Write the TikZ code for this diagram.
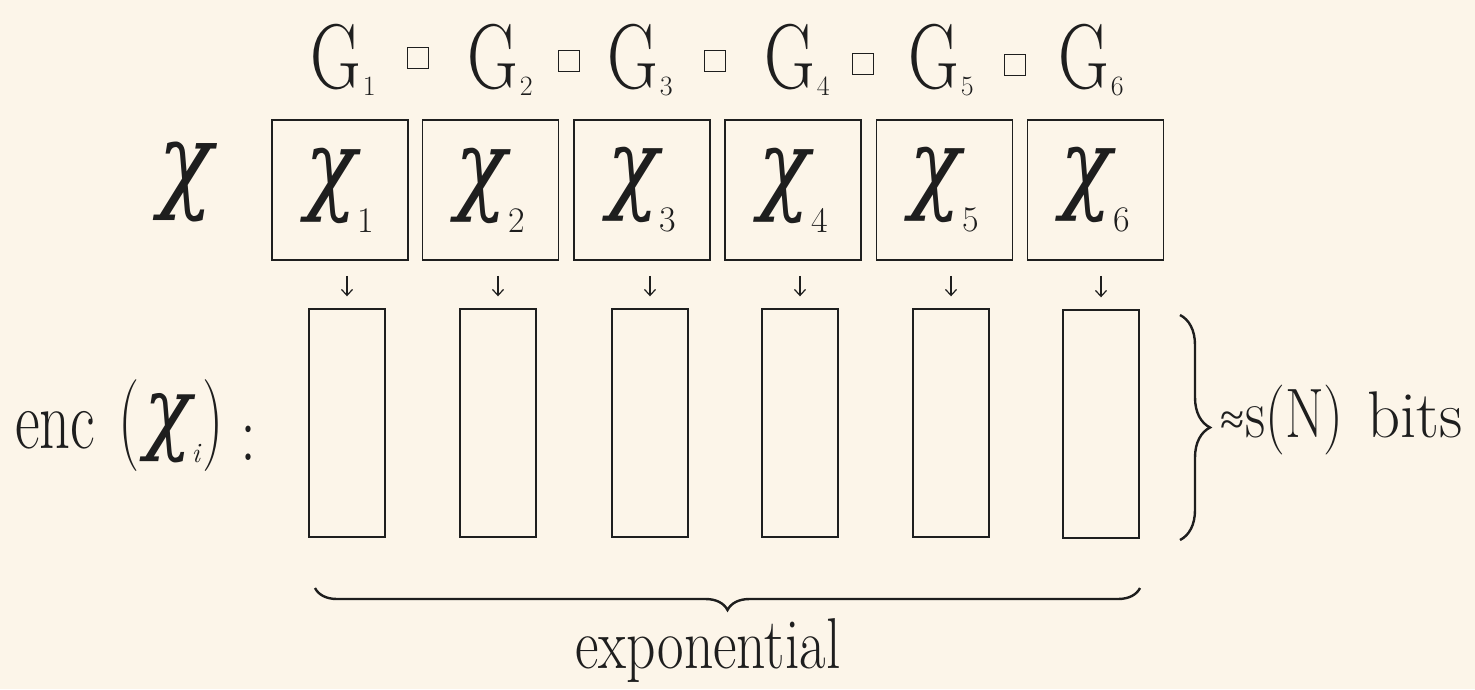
\documentclass[tikz,border=0pt]{standalone}
\usepackage{fontspec}
\usepackage{graphicx}
\newfontfamily\grk{Liberation Serif}
\newfontfamily\chifont{DejaVu Serif}
\usetikzlibrary{arrows.meta,decorations.pathreplacing,calc}
\definecolor{paper}{HTML}{FCF5E9}
\definecolor{ink}{HTML}{1E1E1E}
% size, horizontal scale, text
\newcommand{\hsz}[3]{\scalebox{#2}[1]{\fontsize{#1}{#1}\selectfont #3}}
% size, raise, text
\newcommand{\lowdigit}[3]{\raisebox{#2}{\fontsize{#1}{#1}\selectfont #3}}
\newcommand{\gsym}[1]{\hsz{92}{0.76}{G}\kern2pt\lowdigit{28}{-7pt}{#1}}
\newcommand{\chisym}[1]{\hsz{100}{0.85}{\chifont\itshape χ}\kern1pt\lowdigit{36}{-31pt}{#1}}
\begin{document}
\begin{tikzpicture}[x=1pt,y=-1pt,
  every node/.style={text=ink},
  txt/.style={inner sep=0pt,outer sep=0pt},
  xbox/.style={draw=ink,line width=1.6pt,minimum width=136pt,minimum height=140pt,inner sep=0pt},
  ebox/.style={draw=ink,line width=1.4pt,minimum width=76pt,minimum height=228pt,inner sep=0pt},
  sq/.style={draw=ink,line width=1.3pt,minimum size=21pt,inner sep=0pt},
  arr/.style={draw=ink,line width=1.2pt,-{Straight Barb[length=6pt,width=11pt]}},
  brc/.style={draw=ink,line width=2.4pt,decorate}]
\useasboundingbox (0,0) rectangle (1475,689);
\fill[paper] (0,0) rectangle (1475,689);

% top row G_i and box products
\node[txt,anchor=base west] (g1) at (310,88) {\gsym{1}};
\node[txt,anchor=base west] (g2) at (467,88) {\gsym{2}};
\node[txt,anchor=base west] (g3) at (607,88) {\gsym{3}};
\node[txt,anchor=base west] (g4) at (764,88) {\gsym{4}};
\node[txt,anchor=base west] (g5) at (908,88) {\gsym{5}};
\node[txt,anchor=base west] (g6) at (1058,88) {\gsym{6}};
\node[sq] (s1) at (418,58) {};
\node[sq] (s2) at (569,61) {};
\node[sq] (s3) at (715,61) {};
\node[sq] (s4) at (863,64) {};
\node[sq] (s5) at (1015,65) {};

% chi row
\node[txt,anchor=base west] (bigx) at (158,198) {\hsz{106}{0.85}{\chifont\itshape χ}};
\node[xbox] (x1) at (340,190) {\chisym{1}};
\node[xbox] (x2) at (490.5,190) {\chisym{2}};
\node[xbox] (x3) at (642,190) {\chisym{3}};
\node[xbox] (x4) at (793,190) {\chisym{4}};
\node[xbox] (x5) at (944.5,190) {\chisym{5}};
\node[xbox] (x6) at (1095.5,190) {\chisym{6}};

% encodings
\node[ebox] (e1) at (347,423) {};
\node[ebox] (e2) at (498,423) {};
\node[ebox] (e3) at (650,423) {};
\node[ebox] (e4) at (800,423) {};
\node[ebox] (e5) at (951,423) {};
\node[ebox] (e6) at (1101,424) {};

\foreach \i in {1,...,6}{
  \draw[arr] ($(e\i.north |- x\i.south)+(0,15)$) -- ($(e\i.north)+(0,-12)$);
}

\node[txt,anchor=base west] (enc) at (15,448) {\hsz{84}{0.72}{enc}\kern23pt\hsz{92}{0.65}{(}\kern5pt\raisebox{6pt}{\hsz{92}{0.85}{\chifont\itshape χ}}\kern0pt\lowdigit{28}{-14pt}{\itshape i}\kern3pt\hsz{92}{0.65}{)}\kern16pt\raisebox{-12pt}{\hsz{80}{0.8}{:}}};

% right brace
\coordinate (rbt) at (1180,315);
\coordinate (rbb) at (1180,540);
\draw[brc,decoration={brace,amplitude=30pt}] (rbt) -- (rbb);
\node[txt,anchor=base west] (bits) at (1220,437) {\raisebox{3pt}{\hsz{44}{1}{\grk ≈}}\kern1pt\hsz{70}{0.8}{s(N)}\kern24pt\hsz{66}{0.98}{bits}};

% bottom brace
\coordinate (bbr) at (1140,588);
\coordinate (bbl) at (315,588);
\draw[brc,decoration={brace,amplitude=22pt}] (bbr) -- (bbl);
\node[txt,anchor=base] (expo) at (708,668) {\hsz{72}{0.8}{exponential}};
\end{tikzpicture}
\end{document}
